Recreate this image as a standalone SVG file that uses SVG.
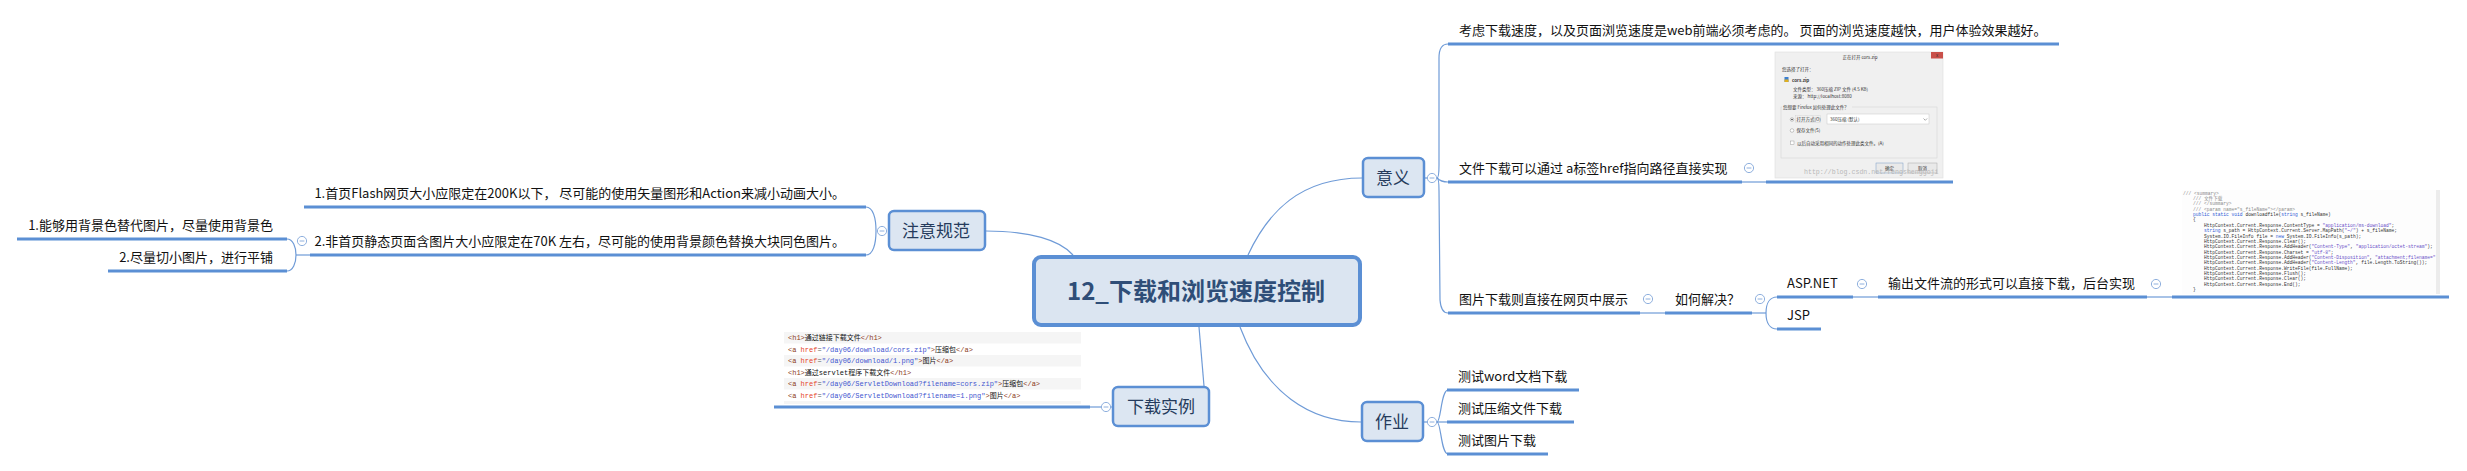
<svg xmlns="http://www.w3.org/2000/svg" xmlns:xlink="http://www.w3.org/1999/xlink" width="2467" height="471" viewBox="0 0 2467 471">
<style>
.ul{stroke:#5b8fd4;stroke-width:3;fill:none}
.cn{stroke:#6f9bd7;stroke-width:1.2;fill:none}
.box{fill:#dce6f2;stroke:#5b8fd4;stroke-width:2.5}
.bt{font-family:'Noto Sans CJK SC','Liberation Sans',sans-serif;font-size:17px;fill:#253b5c;text-anchor:middle}
.lt{font-family:'Noto Sans CJK SC','Liberation Sans',sans-serif;font-size:13px;fill:#111}
.le{text-anchor:end}
.dt{font-family:'Noto Sans CJK SC','Liberation Sans',sans-serif;font-size:4.5px;fill:#333}
.mono{font-family:'Liberation Mono','Noto Sans CJK SC',monospace}
.cd{font-size:7px;fill:#111}
.tg{fill:#8c3b22}.at{fill:#e5452c}.sv{fill:#4355cf}.eq{fill:#555}
.ac{font-size:4.6px;fill:#333}
.cm{fill:#8a8a8a}.kw{fill:#2f5cd6}.st{fill:#6a4fc8}
</style>
<defs>
<g id="col"><circle r="4.6" fill="#fff" stroke="#8fb0de" stroke-width="1"/><line x1="-2.4" y1="0" x2="2.4" y2="0" stroke="#8fb0de" stroke-width="1"/></g>
</defs>

<g id="connectors">
<path class="cn" d="M986,231 C1030,231 1060,240 1073,255"/>
<path class="cn" d="M1248,255 C1268,212 1300,178 1362,178"/>
<path class="cn" d="M1199,327 L1204,386"/>
<path class="cn" d="M1240,327 C1265,393 1310,422 1361,422"/>
<!-- 注意规范 bracket -->
<path class="cn" d="M866,207 C873,207 876,218 876,231 C876,244 873,255 866,255"/>
<path class="cn" d="M310,255 L296,255"/>
<path class="cn" d="M287,239 C293,239 296,247 296,255 C296,263 293,271 287,271"/>
<!-- 意义 bracket -->
<path class="cn" d="M1425,178 L1428,178"/>
<path class="cn" d="M1437,178 Q1439,178 1439,165 L1439,58 Q1439,44 1448,44"/>
<path class="cn" d="M1437,178 Q1441,182 1448,182"/>
<path class="cn" d="M1437,178 Q1439,178 1439,191 L1440,300 Q1441,313 1448,313"/>
<path class="cn" d="M1742,182 L1766,182"/>
<path class="cn" d="M1640,313 L1665,313"/>
<path class="cn" d="M1752,313 L1766,313"/>
<path class="cn" d="M1777,297 C1770,297 1766,303 1766,313 C1766,323 1770,329 1777,329"/>
<path class="cn" d="M1853,297 L1878,297"/>
<path class="cn" d="M2147,297 L2172,297"/>
<!-- 下载实例 -->
<path class="cn" d="M1112,407 L1111,407"/>
<path class="cn" d="M1101,407 L1090,407"/>
<!-- 作业 bracket -->
<path class="cn" d="M1424,422 L1428,422"/>
<path class="cn" d="M1437,422 C1441,422 1441,390 1448,390"/>
<path class="cn" d="M1437,422 L1448,422"/>
<path class="cn" d="M1437,422 C1441,422 1441,454 1448,454"/>
</g>

<g id="root">
<rect x="1034" y="257" width="326" height="68" rx="7" fill="#dbe5f1" stroke="#5b8fd4" stroke-width="4"/>
<text x="1196" y="300" font-family="'Noto Sans CJK SC','Liberation Sans',sans-serif" font-size="24" font-weight="bold" fill="#2f4e78" text-anchor="middle">12_下载和浏览速度控制</text>
</g>

<g id="n-zhuyi">
<rect class="box" x="889" y="211" width="96" height="39" rx="5"/>
<text class="bt" x="936" y="237">注意规范</text>
<use xlink:href="#col" x="882" y="231"/>
</g>
<g id="n-zhuyi-1">
<line class="ul" x1="304" y1="207" x2="866" y2="207"/>
<text class="lt le" x="845" y="198">1.首页Flash网页大小应限定在200K以下， 尽可能的使用矢量图形和Action来减小动画大小。</text>
</g>
<g id="n-zhuyi-2">
<line class="ul" x1="310" y1="255" x2="866" y2="255"/>
<text class="lt le" x="845" y="246">2.非首页静态页面含图片大小应限定在70K 左右，尽可能的使用背景颜色替换大块同色图片。</text>
<use xlink:href="#col" x="302" y="241"/>
</g>
<g id="n-zhuyi-2-1">
<line class="ul" x1="17" y1="239" x2="287" y2="239"/>
<text class="lt le" x="273" y="230">1.能够用背景色替代图片，尽量使用背景色</text>
</g>
<g id="n-zhuyi-2-2">
<line class="ul" x1="108" y1="271" x2="287" y2="271"/>
<text class="lt le" x="273" y="262">2.尽量切小图片，进行平铺</text>
</g>

<g id="n-yiyi">
<rect class="box" x="1363" y="158" width="61" height="39" rx="5"/>
<text class="bt" x="1393" y="184">意义</text>
<use xlink:href="#col" x="1432" y="178"/>
</g>
<g id="n-yiyi-1">
<line class="ul" x1="1448" y1="44" x2="2059" y2="44"/>
<text class="lt" x="1459" y="35">考虑下载速度，以及页面浏览速度是web前端必须考虑的。 页面的浏览速度越快，用户体验效果越好。</text>
</g>
<g id="n-yiyi-2">
<line class="ul" x1="1448" y1="182" x2="1742" y2="182"/>
<text class="lt" x="1459" y="173">文件下载可以通过 a标签href指向路径直接实现</text>
<use xlink:href="#col" x="1749" y="168"/>
</g>
<g id="n-yiyi-2-img">
<line class="ul" x1="1766" y1="182" x2="1953" y2="182"/>
<rect x="1775" y="52" width="168" height="126" fill="#f0f0f0" stroke="#dedede" stroke-width="0.6"/>
<text class="dt" x="1860" y="58.5" text-anchor="middle" font-size="5.5">正在打开 cors.zip</text>
<rect x="1931" y="52" width="12" height="6.5" fill="#c9504a"/>
<text class="dt" x="1937" y="57" text-anchor="middle" font-size="5" fill="#fff">x</text>
<text class="dt" x="1782" y="70.5">您选择了打开：</text>
<rect x="1784.5" y="77" width="4" height="5" fill="#3c7fd0"/>
<rect x="1784.5" y="79.5" width="4" height="2.5" fill="#e0b020"/>
<text class="dt" x="1792" y="81.5" font-size="5" font-weight="bold" fill="#111">cors.zip</text>
<text class="dt" x="1793" y="90.5">文件类型： 360压缩 ZIP 文件 (4.5 KB)</text>
<text class="dt" x="1793" y="98">来源： http://localhost:8080</text>
<rect x="1781" y="107" width="156" height="51" fill="none" stroke="#d6d6d6" stroke-width="0.6"/>
<rect x="1782" y="104" width="70" height="6" fill="#f0f0f0"/>
<text class="dt" x="1783" y="109">您想要 Firefox 如何处理此文件？</text>
<circle cx="1792" cy="119.5" r="1.8" fill="#fff" stroke="#777" stroke-width="0.4"/>
<circle cx="1792" cy="119.5" r="0.8" fill="#333"/>
<rect x="1795.5" y="115.5" width="25" height="7" fill="none" stroke="#999" stroke-width="0.3" stroke-dasharray="0.6 0.6"/>
<text class="dt" x="1796.5" y="121">打开方式(O)</text>
<rect x="1827" y="114" width="102" height="10" fill="#fff" stroke="#c6c6c6" stroke-width="0.5"/>
<text class="dt" x="1830" y="121">360压缩 (默认)</text>
<path d="M1923.5,118.5 l1.8,1.8 l1.8,-1.8" fill="none" stroke="#555" stroke-width="0.5"/>
<circle cx="1792" cy="130.5" r="1.8" fill="#fff" stroke="#777" stroke-width="0.4"/>
<text class="dt" x="1796.5" y="132">保存文件(S)</text>
<rect x="1790.5" y="141" width="3.5" height="3.5" fill="#fff" stroke="#888" stroke-width="0.4"/>
<text class="dt" x="1797" y="144.5">以后自动采用相同的动作处理此类文件。(A)</text>
<rect x="1876" y="163" width="27" height="10" fill="#e9e9e9" stroke="#7a9cc6" stroke-width="0.5"/>
<text class="dt" x="1889.5" y="169.5" text-anchor="middle">确定</text>
<rect x="1908" y="163" width="29" height="10" fill="#e9e9e9" stroke="#a8a8a8" stroke-width="0.5"/>
<text class="dt" x="1922.5" y="169.5" text-anchor="middle">取消</text>
<text class="mono" x="1804" y="174" font-size="6.6" fill="#b8b8b8">http://blog.csdn.net/fengshenggoji</text>
</g>
<g id="n-yiyi-3">
<line class="ul" x1="1448" y1="313" x2="1640" y2="313"/>
<text class="lt" x="1459" y="304">图片下载则直接在网页中展示</text>
<use xlink:href="#col" x="1648" y="299"/>
</g>
<g id="n-ruhe">
<line class="ul" x1="1665" y1="313" x2="1752" y2="313"/>
<text class="lt" x="1675" y="304">如何解决？</text>
<use xlink:href="#col" x="1760" y="299"/>
</g>
<g id="n-aspnet">
<line class="ul" x1="1777" y1="297" x2="1853" y2="297"/>
<text class="lt" x="1787" y="288">ASP.NET</text>
<use xlink:href="#col" x="1862" y="284"/>
</g>
<g id="n-jsp">
<line class="ul" x1="1777" y1="329" x2="1821" y2="329"/>
<text class="lt" x="1787" y="320">JSP</text>
</g>
<g id="n-output">
<line class="ul" x1="1878" y1="297" x2="2147" y2="297"/>
<text class="lt" x="1888" y="288">输出文件流的形式可以直接下载，后台实现</text>
<use xlink:href="#col" x="2156" y="284"/>
</g>
<g id="n-aspcode">
<line class="ul" x1="2172" y1="297" x2="2449" y2="297"/>
<rect x="2182" y="190" width="258" height="104" fill="#fdfdfd"/>
<rect x="2436" y="190" width="4" height="104" fill="#ececec"/>
<g class="mono ac">
<text x="2183" y="194.5"><tspan class="cm">/// &lt;summary&gt;</tspan></text>
<text x="2193" y="199.9"><tspan class="cm">/// 文件下载</tspan></text>
<text x="2193" y="205.2"><tspan class="cm">/// &lt;/summary&gt;</tspan></text>
<text x="2193" y="210.6"><tspan class="cm">/// &lt;param name="s_fileName"&gt;&lt;/param&gt;</tspan></text>
<text x="2193" y="216"><tspan class="kw">public static void</tspan> downloadfile(<tspan class="kw">string</tspan> s_fileName)</text>
<text x="2193" y="221.4">{</text>
<text x="2204" y="226.7">HttpContext.Current.Response.ContentType = <tspan class="st">"application/ms-download"</tspan>;</text>
<text x="2204" y="232.1"><tspan class="kw">string</tspan> s_path = HttpContext.Current.Server.MapPath(<tspan class="st">"~/"</tspan>) + s_fileName;</text>
<text x="2204" y="237.5">System.IO.FileInfo file = <tspan class="kw">new</tspan> System.IO.FileInfo(s_path);</text>
<text x="2204" y="242.8">HttpContext.Current.Response.Clear();</text>
<text x="2204" y="248.2">HttpContext.Current.Response.AddHeader(<tspan class="st">"Content-Type"</tspan>, <tspan class="st">"application/octet-stream"</tspan>);</text>
<text x="2204" y="253.6">HttpContext.Current.Response.Charset = <tspan class="st">"utf-8"</tspan>;</text>
<text x="2204" y="258.9">HttpContext.Current.Response.AddHeader(<tspan class="st">"Content-Disposition"</tspan>, <tspan class="st">"attachment;filename="</tspan></text>
<text x="2204" y="264.3">HttpContext.Current.Response.AddHeader(<tspan class="st">"Content-Length"</tspan>, file.Length.ToString());</text>
<text x="2204" y="269.7">HttpContext.Current.Response.WriteFile(file.FullName);</text>
<text x="2204" y="275">HttpContext.Current.Response.Flush();</text>
<text x="2204" y="280.4">HttpContext.Current.Response.Clear();</text>
<text x="2204" y="285.8">HttpContext.Current.Response.End();</text>
<text x="2193" y="291.1">}</text>
</g>
</g>

<g id="n-shili">
<rect class="box" x="1113" y="387" width="96" height="39" rx="5"/>
<text class="bt" x="1161" y="413">下载实例</text>
<use xlink:href="#col" x="1106" y="407"/>
</g>
<g id="n-shili-code">
<line class="ul" x1="774" y1="407" x2="1090" y2="407"/>
<rect x="784" y="332" width="297" height="72" fill="#ffffff"/>
<rect x="784" y="332" width="297" height="11.5" fill="#f5f5f5"/>
<rect x="784" y="355" width="297" height="11.5" fill="#f5f5f5"/>
<rect x="784" y="378" width="297" height="11.5" fill="#f5f5f5"/>
<rect x="784" y="401" width="297" height="3" fill="#f5f5f5"/>
<g class="mono cd">
<text x="788" y="340"><tspan class="tg">&lt;h1&gt;</tspan>通过链接下载文件<tspan class="tg">&lt;/h1&gt;</tspan></text>
<text x="788" y="351.5"><tspan class="tg">&lt;a </tspan><tspan class="at">href</tspan><tspan class="eq">=</tspan><tspan class="sv">"/day06/download/cors.zip"</tspan><tspan class="tg">&gt;</tspan>压缩包<tspan class="tg">&lt;/a&gt;</tspan></text>
<text x="788" y="363"><tspan class="tg">&lt;a </tspan><tspan class="at">href</tspan><tspan class="eq">=</tspan><tspan class="sv">"/day06/download/1.png"</tspan><tspan class="tg">&gt;</tspan>图片<tspan class="tg">&lt;/a&gt;</tspan></text>
<text x="788" y="374.5"><tspan class="tg">&lt;h1&gt;</tspan>通过servlet程序下载文件<tspan class="tg">&lt;/h1&gt;</tspan></text>
<text x="788" y="386"><tspan class="tg">&lt;a </tspan><tspan class="at">href</tspan><tspan class="eq">=</tspan><tspan class="sv">"/day06/ServletDownload?filename=cors.zip"</tspan><tspan class="tg">&gt;</tspan>压缩包<tspan class="tg">&lt;/a&gt;</tspan></text>
<text x="788" y="397.5"><tspan class="tg">&lt;a </tspan><tspan class="at">href</tspan><tspan class="eq">=</tspan><tspan class="sv">"/day06/ServletDownload?filename=1.png"</tspan><tspan class="tg">&gt;</tspan>图片<tspan class="tg">&lt;/a&gt;</tspan></text>
</g>
</g>

<g id="n-zuoye">
<rect class="box" x="1362" y="402" width="61" height="39" rx="5"/>
<text class="bt" x="1392" y="428">作业</text>
<use xlink:href="#col" x="1432" y="422"/>
</g>
<g id="n-zuoye-1">
<line class="ul" x1="1447" y1="390" x2="1579" y2="390"/>
<text class="lt" x="1458" y="381">测试word文档下载</text>
</g>
<g id="n-zuoye-2">
<line class="ul" x1="1447" y1="422" x2="1574" y2="422"/>
<text class="lt" x="1458" y="413">测试压缩文件下载</text>
</g>
<g id="n-zuoye-3">
<line class="ul" x1="1447" y1="454" x2="1548" y2="454"/>
<text class="lt" x="1458" y="445">测试图片下载</text>
</g>
</svg>
